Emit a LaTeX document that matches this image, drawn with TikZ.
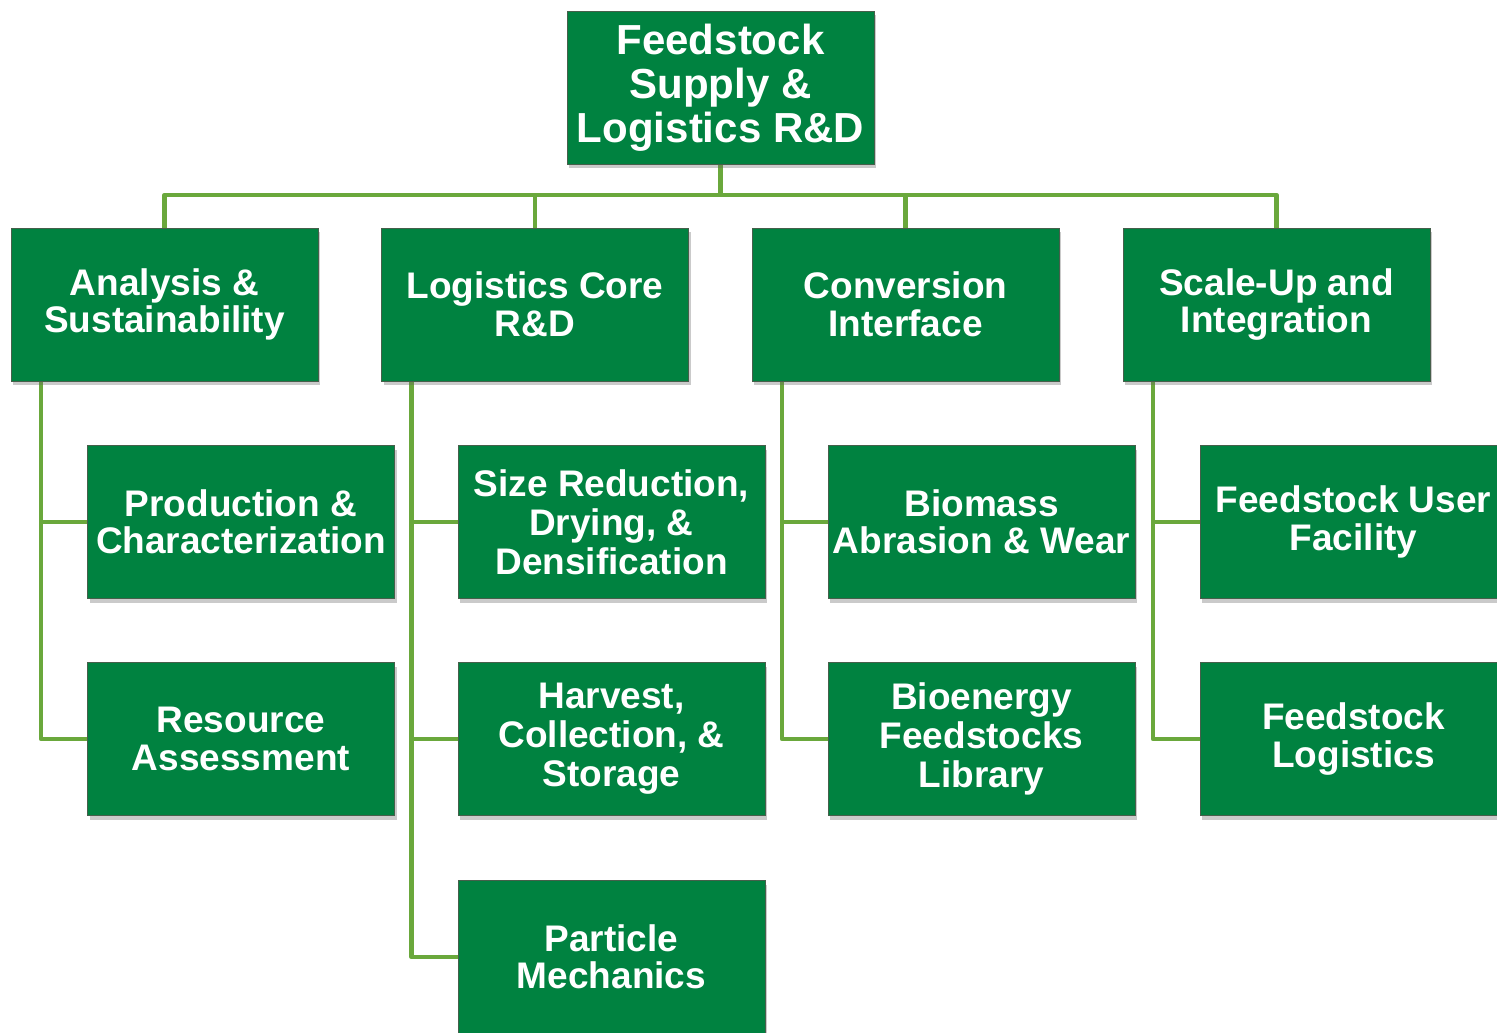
\documentclass[tikz,border=0pt]{standalone}
\usepackage{fontspec}
\setmainfont{Liberation Sans}
\usetikzlibrary{shadows,backgrounds,calc}
\definecolor{boxgreen}{RGB}{0,130,64}
\definecolor{linegreen}{RGB}{106,168,60}
\definecolor{boxedge}{RGB}{70,95,75}
\tikzset{
  orgbox/.style={rectangle, fill=boxgreen, draw=boxedge, line width=0.8pt,
    minimum width=307pt, minimum height=153pt, inner sep=0pt, align=center,
    text=white, font=\bfseries\fontsize{37}{37.5}\selectfont,
    drop shadow={shadow xshift=2pt, shadow yshift=-4pt, opacity=0.35, fill=black!60}},
  topbox/.style={orgbox, font=\bfseries\fontsize{42}{44}\selectfont},
  conn/.style={draw=linegreen, line width=4.5pt, line join=round, line cap=butt}
}
\begin{document}
\begin{tikzpicture}[x=1pt,y=-1pt]
\useasboundingbox (0,0) rectangle (1497,1033);
\clip (0,0) rectangle (1497,1033);
\node[topbox] (top) at (720.5,87.5) {Feedstock\\Supply \&\\Logistics R\&D};
\node[orgbox] (a) at (164.5,304.5) {Analysis \&\\Sustainability};
\node[orgbox] (b) at (535,304.5) {Logistics Core\\R\&D};
\node[orgbox] (c) at (905.5,304.5) {Conversion\\Interface};
\node[orgbox] (d) at (1276.5,304.5) {Scale-Up and\\Integration};
\node[orgbox] (a1) at (241,522) {Production \&\\Characterization};
\node[orgbox] (a2) at (241,739) {Resource\\Assessment};
\node[orgbox, font=\bfseries\fontsize{37}{39}\selectfont] (b1) at (611.5,522) {Size Reduction,\\Drying, \&\\Densification};
\node[orgbox, font=\bfseries\fontsize{37}{39}\selectfont] (b2) at (611.5,739) {Harvest,\\Collection, \&\\Storage};
\node[orgbox] (b3) at (611.5,957) {Particle\\Mechanics};
\node[orgbox] (c1) at (981.5,522) {Biomass\\Abrasion \& Wear};
\node[orgbox, font=\bfseries\fontsize{37}{39}\selectfont] (c2) at (981.5,739) {Bioenergy\\Feedstocks\\Library};
\node[orgbox] (d1) at (1353.5,522) {Feedstock User\\Facility};
\node[orgbox] (d2) at (1353.5,739) {Feedstock\\Logistics};
\coordinate (busy) at (0,195);
\begin{scope}[on background layer]
\draw[conn] (top.south) -- (top.south |- busy);
\draw[conn] (a.north) -- (a.north |- busy) -- (d.north |- busy) -- (d.north);
\draw[conn] (b.north) -- (b.north |- busy);
\draw[conn] (c.north) -- (c.north |- busy);
\coordinate (ta) at ($(a.south west)+(30.5,0)$);
\coordinate (tb) at ($(b.south west)+(30.5,0)$);
\coordinate (tc) at ($(c.south west)+(30.5,0)$);
\coordinate (td) at ($(d.south west)+(30.5,0)$);
\draw[conn] (ta) |- (a2.west);
\draw[conn] (ta |- a1.west) -- (a1.west);
\draw[conn] (tb) |- (b3.west);
\draw[conn] (tb |- b1.west) -- (b1.west);
\draw[conn] (tb |- b2.west) -- (b2.west);
\draw[conn] (tc) |- (c2.west);
\draw[conn] (tc |- c1.west) -- (c1.west);
\draw[conn] (td) |- (d2.west);
\draw[conn] (td |- d1.west) -- (d1.west);
\end{scope}
\end{tikzpicture}
\end{document}
